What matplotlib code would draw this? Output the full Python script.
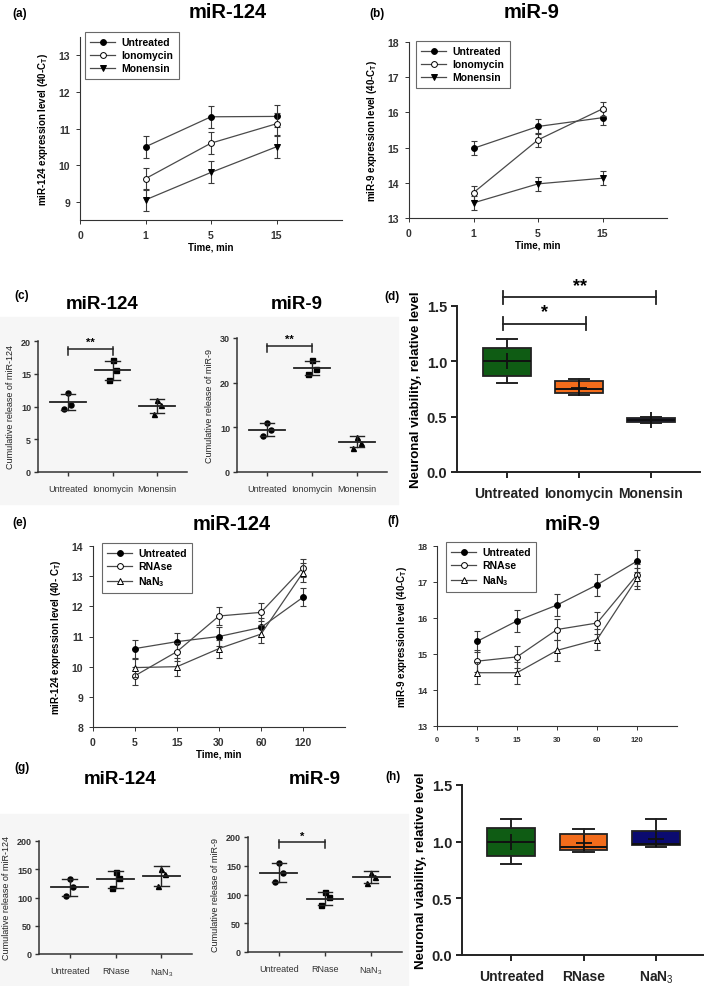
import matplotlib
matplotlib.use('Agg')
import matplotlib.pyplot as plt
from matplotlib.patches import Rectangle

plt.rcParams['font.family'] = ['Liberation Sans', 'DejaVu Sans']
plt.rcParams['mathtext.fontset'] = 'custom'
plt.rcParams['mathtext.rm'] = 'Liberation Sans'
plt.rcParams['mathtext.bf'] = 'Liberation Sans:bold'

# ---- data ----
# (a)/(b) time course after ionophores
time_ab = ['0', '1', '5', '15']
groups_ab = ['Untreated', 'Ionomycin', 'Monensin']
a_vals = [[10.5, 11.32, 11.33], [9.63, 10.6, 11.13], [9.05, 9.8, 10.5]]
a_err = [[0.3, 0.3, 0.3], [0.3, 0.3, 0.3], [0.3, 0.3, 0.3]]
b_vals = [[14.98, 15.6, 15.85], [13.72, 15.22, 16.1], [13.43, 13.97, 14.13]]
b_err = [[0.2, 0.2, 0.2], [0.2, 0.2, 0.2], [0.2, 0.2, 0.2]]

# (c) cumulative release, ionophores
cats_c = ['Untreated', 'Ionomycin', 'Monensin']
c124_pts = [[12.0, 10.3, 9.6], [17.1, 15.5, 14.0], [11.0, 10.2, 8.9]]
c124_mean = [10.7, 15.5, 10.05]
c124_sd = [1.2, 1.5, 1.05]
c9_pts = [[11.0, 9.4, 8.0], [25.0, 23.0, 22.0], [7.8, 6.5, 5.4]]
c9_mean = [9.5, 23.3, 6.8]
c9_sd = [1.5, 1.5, 1.2]

# (d) viability, ionophores (box stats)
d_med = [1.0, 0.75, 0.47]
d_q1 = [0.87, 0.71, 0.45]
d_q3 = [1.12, 0.82, 0.49]
d_lo = [0.8, 0.70, 0.44]
d_hi = [1.2, 0.84, 0.50]
d_mean = [1.0, 0.76, 0.47]

# (e)/(f) time course, RNAse / NaN3
time_ef = ['0', '5', '15', '30', '60', '120']
groups_ef = ['Untreated', 'RNAse', 'NaN$_\\mathbf{3}$']
e_vals = [[10.6, 10.83, 11.0, 11.3, 12.3],
          [9.7, 10.5, 11.68, 11.8, 13.28],
          [9.97, 10.0, 10.6, 11.08, 13.12]]
e_err = [[0.3] * 5, [0.3] * 5, [0.3] * 5]
f_vals = [[15.35, 15.92, 16.36, 16.92, 17.58],
          [14.8, 14.92, 15.68, 15.86, 17.2],
          [14.48, 14.48, 15.1, 15.4, 17.1]]
f_err = [[0.3] * 5, [0.3] * 5, [0.3] * 5]

# (g) cumulative release, RNase / NaN3
cats_g = ['Untreated', 'RNase', 'NaN$_3$']
g124_pts = [[132, 118, 103], [145, 135, 117], [150, 142, 120]]
g124_mean = [118, 132, 138]
g124_sd = [14.5, 14.5, 17]
g9_pts = [[155, 138, 122], [104, 95, 82], [138, 130, 120]]
g9_mean = [138, 93, 130]
g9_sd = [16.5, 10.5, 10.5]

# (h) viability, RNase / NaN3
h_med = [1.0, 0.95, 0.98]
h_q1 = [0.87, 0.93, 0.97]
h_q3 = [1.12, 1.07, 1.09]
h_lo = [0.8, 0.91, 0.95]
h_hi = [1.2, 1.11, 1.2]
h_mean = [1.0, 0.99, 1.02]

W, H = 709, 987
fig = plt.figure(figsize=(W / 100, H / 100), dpi=100)


def px_axes(x0, y0, x1, y1):
    return fig.add_axes([x0 / W, 1 - y1 / H, (x1 - x0) / W, (y1 - y0) / H])


def ftext(x, y, s, **kw):
    fig.text(x / W, 1 - y / H, s, ha='center', va='center', **kw)


# light grey backgrounds behind the dot plots
fig.patches.append(Rectangle((0, 1 - 505 / H), 398 / W, 187 / H, transform=fig.transFigure,
                             color='#f6f6f6', zorder=-10))
fig.patches.append(Rectangle((0, 0), 408 / W, 172 / H, transform=fig.transFigure,
                             color='#f6f6f6', zorder=-10))

MARKERS = [('o', 'black'), ('o', 'white'), ('v', 'black')]
MARKERS_EF = [('o', 'black'), ('o', 'white'), ('^', 'white')]


def line_panel(box, xlabels, vals, errs, names, markers, ylim, ylabel, leg_xy,
               xlabel=None, tsize=7.5, xsize=7.5, lsize=7):
    ax = px_axes(*box)
    for v, e, n, (m, fc) in zip(vals, errs, names, markers):
        xs = list(range(1, len(v) + 1))
        ax.errorbar(xs, v, yerr=e, fmt='none', ecolor='#3a3a3a', elinewidth=0.8,
                    capsize=2.5, capthick=0.8)
        ax.plot(xs, v, marker=m, color='#4a4a4a', lw=0.9, mfc=fc, mec='black',
                ms=4.2, mew=0.7, label=n)
    ax.set_xlim(0, len(xlabels))
    ax.set_ylim(*ylim)
    ax.set_xticks(range(len(xlabels)))
    ax.set_xticklabels(xlabels, fontweight='bold', fontsize=xsize)
    ax.set_yticks(range(int(round(ylim[0] + 0.49)), int(ylim[1]) + 1))
    for t in ax.get_yticklabels():
        t.set_fontweight('bold')
        t.set_fontsize(tsize)
    ax.spines[['top', 'right']].set_visible(False)
    for s in ['left', 'bottom']:
        ax.spines[s].set_color('#333333')
        ax.spines[s].set_linewidth(0.8)
    ax.tick_params(direction='out', length=3, width=0.7, colors='#333333', pad=4)
    ax.set_ylabel(ylabel, fontsize=lsize, fontweight='bold', labelpad=6)
    if xlabel:
        ax.set_xlabel(xlabel, fontsize=7, fontweight='bold', labelpad=1)
    leg = ax.legend(loc='upper left', bbox_to_anchor=(leg_xy[0] / W, 1 - leg_xy[1] / H),
                    bbox_transform=fig.transFigure, borderaxespad=0, fancybox=False,
                    edgecolor='#444444', handlelength=2.4, labelspacing=0.3,
                    prop={'weight': 'bold', 'size': 7.5}, borderpad=0.5, handletextpad=0.6)
    leg.get_frame().set_linewidth(0.8)
    return ax


JIT = [0.0, 0.08, -0.08]


def dot_panel(box, cats, pts, means, sds, ylim, yticks, ylabel, sig=None):
    ax = px_axes(*box)
    marks = ['o', 's', '^']
    for i, (p, mu, sd) in enumerate(zip(pts, means, sds)):
        ax.plot([i + j for j in JIT], p, marks[i], color='black', ms=3.6, ls='none')
        ax.plot([i - 0.4, i + 0.4], [mu, mu], color='#222222', lw=1.3)
        ax.plot([i, i], [mu - sd, mu + sd], color='#222222', lw=1.0)
        for yv in (mu - sd, mu + sd):
            ax.plot([i - 0.16, i + 0.16], [yv, yv], color='#222222', lw=1.0)
    ax.set_xlim(-0.67, 2.67)
    ax.set_ylim(*ylim)
    ax.set_yticks(yticks)
    ax.set_xticks(range(len(cats)))
    ax.set_xticklabels(cats, fontsize=6.5, color='#111111')
    for t in ax.get_yticklabels():
        t.set_fontweight('bold')
        t.set_fontsize(6.5)
    ax.set_facecolor('none')
    ax.spines[['top', 'right']].set_visible(False)
    for s in ['left', 'bottom']:
        ax.spines[s].set_color('#333333')
        ax.spines[s].set_linewidth(1.1)
    ax.tick_params(direction='out', length=3, width=1, colors='#333333', pad=2)
    ax.tick_params(axis='x', pad=6)
    ax.set_ylabel(ylabel, fontsize=6.5, color='#222222', labelpad=4)
    if sig:
        x0, x1, yb, dy, star = sig
        ax.plot([x0, x1], [yb, yb], color='#222222', lw=1.1, clip_on=False)
        for xx in (x0, x1):
            ax.plot([xx, xx], [yb - dy, yb + dy * 0.3], color='#222222', lw=1.1, clip_on=False)
        ax.text((x0 + x1) / 2, yb + dy * 0.3, star, ha='center', va='bottom',
                fontsize=8, fontweight='bold')
    return ax


COLORS = ['#0f5c14', '#f36c1b', '#0b0b70']


def box_panel(box, cats, med, q1, q3, lo, hi, mean, xlim, sigs=()):
    ax = px_axes(*box)
    stats = [dict(med=m, q1=a, q3=b, whislo=l, whishi=h, mean=mu, fliers=[], label=c)
             for m, a, b, l, h, mu, c in zip(med, q1, q3, lo, hi, mean, cats)]
    bp = ax.bxp(stats, positions=range(len(cats)), widths=0.66, patch_artist=True,
                showmeans=True, showfliers=False, capwidths=0.28,
                boxprops=dict(edgecolor='#222222', linewidth=1.3),
                medianprops=dict(color='#111111', linewidth=1.4),
                whiskerprops=dict(color='#222222', linewidth=1.4),
                capprops=dict(color='#222222', linewidth=1.4),
                meanprops=dict(marker='+', markeredgecolor='#111111', markersize=11, mew=1.3))
    for patch, col in zip(bp['boxes'], COLORS):
        patch.set_facecolor(col)
    ax.set_xlim(*xlim)
    ax.set_ylim(0, 1.5)
    ax.set_yticks([0, 0.5, 1.0, 1.5])
    ax.set_yticklabels(['0.0', '0.5', '1.0', '1.5'], fontsize=10.5, fontweight='bold')
    ax.set_xticks(range(len(cats)))
    ax.set_xticklabels(cats, fontsize=10, fontweight='bold')
    ax.spines[['top', 'right']].set_visible(False)
    for s in ['left', 'bottom']:
        ax.spines[s].set_color('#222222')
        ax.spines[s].set_linewidth(1.4)
    ax.tick_params(direction='out', length=4, width=1.4, colors='#222222', pad=3)
    ax.tick_params(axis='x', pad=6)
    ax.set_ylabel('Neuronal viability, relative level', fontsize=9.5, fontweight='bold',
                  labelpad=3)
    for x0, x1, yb, star in sigs:
        ax.plot([x0, x1], [yb, yb], color='#222222', lw=1.3, clip_on=False)
        for xx in (x0, x1):
            ax.plot([xx, xx], [yb - 0.06, yb + 0.06], color='#222222', lw=1.3, clip_on=False)
        ax.text((x0 + x1) / 2, yb + 0.03, star, ha='center', va='bottom', fontsize=13,
                fontweight='bold')
    return ax


# (a)
line_panel((80, 38, 342, 221), time_ab, a_vals, a_err, groups_ab, MARKERS, (8.5, 13.5),
           'miR-124 expression level (40-C$_\\mathbf{T}$)', (85, 33), xlabel='Time, min')
# (b)
line_panel((409, 43, 667, 219), time_ab, b_vals, b_err, groups_ab, MARKERS, (13, 18),
           'miR-9 expression level (40-C$_\\mathbf{T}$)', (416, 42), xlabel='Time, min')
# (c)
dot_panel((38, 342, 187, 473), cats_c, c124_pts, c124_mean, c124_sd, (0, 20),
          [0, 5, 10, 15, 20], 'Cumulative release of miR-124', sig=(0, 1, 18.8, 0.9, '**'))
dot_panel((237, 339, 387, 473), cats_c, c9_pts, c9_mean, c9_sd, (0, 30),
          [0, 10, 20, 30], 'Cumulative release of miR-9', sig=(0, 1, 28.2, 1.4, '**'))
# (d)
box_panel((457, 307, 700, 473), cats_c, d_med, d_q1, d_q3, d_lo, d_hi, d_mean,
          (-0.69, 2.68), sigs=[(-0.05, 1.1, 1.34, '*'), (-0.05, 2.07, 1.58, '**')])
# (e)
line_panel((93, 547, 345, 728), time_ef, e_vals, e_err, groups_ef, MARKERS_EF, (8, 14),
           'miR-124 expression level (40- C$_\\mathbf{T}$)', (102, 544), xlabel='Time, min')
# (f)
line_panel((437, 547, 677, 727), time_ef, f_vals, f_err, groups_ef, MARKERS_EF, (13, 18),
           'miR-9 expression level (40-C$_\\mathbf{T}$)', (446, 543), tsize=6.5, xsize=5.5)
# (g)
dot_panel((39, 842, 192, 955), cats_g, g124_pts, g124_mean, g124_sd, (0, 200),
          [0, 50, 100, 150, 200], 'Cumulative release of miR-124')
dot_panel((248, 838, 402, 953), cats_g, g9_pts, g9_mean, g9_sd, (0, 200),
          [0, 50, 100, 150, 200], 'Cumulative release of miR-9', sig=(0, 1, 191, 10, '*'))
# (h)
box_panel((462, 786, 703, 956), cats_g, h_med, h_q1, h_q3, h_lo, h_hi, h_mean,
          (-0.68, 2.65))

# titles and panel letters
for x, y, s in [(228, 13, 'miR-124'), (532, 13, 'miR-9'), (232, 525, 'miR-124'),
                (573, 525, 'miR-9')]:
    ftext(x, y, s, fontsize=14.5, fontweight='bold')
for x, y, s in [(102, 305, 'miR-124'), (297, 305, 'miR-9'), (120, 780, 'miR-124'),
                (315, 780, 'miR-9')]:
    ftext(x, y, s, fontsize=13.5, fontweight='bold')
for x, y, s in [(20, 14, '(a)'), (377, 14, '(b)'), (22, 296, '(c)'), (392, 297, '(d)'),
                (20, 523, '(e)'), (393, 521, '(f)'), (22, 768, '(g)'), (393, 777, '(h)')]:
    ftext(x, y, s, fontsize=8.5, fontweight='bold')

fig.savefig('out.png', dpi=100)
